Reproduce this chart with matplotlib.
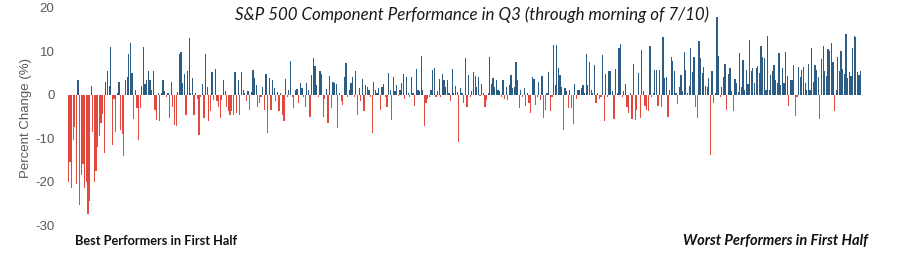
import numpy as np
import matplotlib
matplotlib.use("Agg")
import matplotlib.pyplot as plt

# Q3 % change per S&P 500 component, ordered from best to worst first-half performer
seg0 = [-20, -15.5, -21.5, -10.5, -7.5, -20.5, 3.3, -25.5, -18.5, -16, -21.5, -20, -27.5, -24.5, 2,
        -8.5, -20, -17.5, -12, -9.5, -6.5, -4.5, -13.5, 3, 5.5, 2, 11, -11.5, -1, -8.5, 0.5, 3, -8, -9,
        -14, 3.5, 4, 9.5, 12, 5, -5.5, 1, -3, -10.5, -3, 2, 11, 2.5, 3.5, 5.5]
seg1 = [3.5, 1.0, 5.4, -3.5, -5.8, 0.5, -6.1, 0.3, 3.5, 0.8, -0.5, 0.4, -5.4, 3.0, -2.7, -6.9, -7.1,
        0.6, 9.4, 9.8, 2.7, 4.8, -4.6, 5.5, 13.0, 0.5, 3.8, -4.6, 0.4, -1.0, -9.2, -0.5, 2.5, -5.4, 9.5,
        1.8, -6.1, -3.8, 5.2, -1.2, 6.0, -1.5, -2.7, -5.4, -1.2, 3.3, 0.8, -2.7, -3.8, -4.6]
seg2 = [-3.8, -4.6, 5.2, -4.2, 3.5, -4.6, 5.2, 1.2, 0.5, -1.5, 0.8, -3.5, 0.6, 5.8, 3.8, 2.3, -2.7,
        -1.9, -0.5, 1.8, -3.5, 4.8, -8.8, 3.8, -3.5, 3.5, 1.5, -1.5, 0.6, -3.8, 0.4, -4.6, -6.1, 3.6,
        -0.5, 1.2, 7.9, -0.5, -3.0, 1.0, 1.3, -1.9, 2.8, 1.5, -0.5, -2.7, 2.8, 1.0, -5.0, 4.6]
seg3 = [8.4, 6.7, 2.3, -0.5, 5.4, 4.8, -5.0, -1.0, 1.3, -6.5, 4.4, -3.0, 3.0, 2.7, 2.5, -7.7, 0.4,
        -1.5, -2.3, 4.0, 7.3, -0.5, 1.2, 2.8, 4.0, -0.4, 5.5, -4.6, 1.5, -1.5, 3.6, -3.8, 2.3, 1.8, 1.2,
        -0.5, -8.8, 3.0, 1.0, 0.3, 1.5, -3.5, 1.8, 2.5, -0.5, -2.7, 5.0, 1.2, -5.9, 4.0]
seg4 = [0.8, 2.3, -0.3, 1.2, 2.7, 4.8, -1.0, 4.0, 0.5, -0.5, 4.0, 0.3, -2.5, 6.0, 1.2, 0.8, 9.0, 1.0,
        -7.3, -1.9, -1.0, -0.5, 1.2, 5.6, 6.2, -0.4, 0.8, 3.6, -0.4, 4.8, 3.5, 1.8, 3.3, 0.3, -1.5, 5.9,
        0.4, 2.0, 0.6, -10.8, 1.5, 0.5, -1.9, 8.4, -2.7, 4.6, -0.5, 0.8, 5.2, 4.4]
seg5 = [1.8, 4.0, -0.3, 2.5, 0.4, -2.7, -1.2, 0.5, 8.7, 2.5, 3.8, 1.8, 3.5, 1.2, 0.8, -0.5, 3.3, -1.0,
        1.8, -1.3, 2.3, 4.6, 1.5, 1.8, 7.5, 3.3, -3.0, 1.0, -0.5, 1.5, -2.5, 0.5, -2.0, -4.2, 4.0, 3.6,
        -2.3, -0.5, 3.0, -1.3, 4.4, -5.4, -3.5, 0.5, 5.2, -3.8, -0.5, 11.4, 2.3, 11.4]
seg6 = [6.2, 4.6, 1.8, -8.1, 1.5, 0.8, -3.0, 1.0, -3.0, -6.7, 2.5, -1.0, 1.2, 1.0, 1.5, 2.3, 0.5, 9.5,
        2.3, 7.5, 1.2, 0.4, 6.8, -1.9, 0.4, -1.0, -0.5, 9.2, -6.1, 4.8, -0.5, 5.5, 5.5, 0.8, -5.6, 6.0,
        0.5, 10.8, 11.7, -0.4, 0.8, 2.5, -2.7, -4.1, 0.4, -5.6, 7.2, -5.9, -3.5, 5.0]
seg7 = [-5.4, 10.4, 0.8, -2.5, -3.5, -3.8, 11.2, -0.5, 0.3, 5.6, 5.6, -2.5, 5.8, -2.8, 13.3, 3.8, 4.0,
        -5.2, 1.0, 8.7, 7.8, 5.4, 0.4, -2.1, 1.8, 4.6, 0.8, 9.8, 5.8, 0.5, 2.0, 10.8, 5.2, 8.8, -2.7,
        -5.4, 12.5, 8.5, 5.0, 6.5, 2.0, 1.8, 3.8, -13.8, 5.4, -1.9, 0.5, 18.0, 9.0, -0.5]
seg8 = [1.8, 4.0, 7.2, -3.5, 4.8, 6.2, 0.8, -3.8, 3.6, 2.8, 0.6, 9.6, 1.8, 8.0, 1.0, 5.8, 2.5, 12.7,
        5.5, 6.2, 2.7, 6.2, 6.7, 5.0, 11.2, 8.7, 8.5, 1.2, 13.6, 1.2, 4.6, 5.5, 6.9, 3.5, 2.7, 9.6, 2.3,
        6.2, 2.8, 9.8, 4.4, -2.5, 3.3, 3.5, 6.9, -4.8, -0.5, 6.5, 4.0, 5.6]
seg9 = [6.5, 2.8, 1.2, 7.2, 1.0, 10.8, 3.0, 6.9, 5.8, 4.2, -5.6, 8.2, 11.2, 5.4, 4.4, 10.5, 10.2, 11.9,
        7.5, -3.8, 1.2, 8.7, 5.4, 10.0, 5.9, 4.8, 14.1, 3.8, 5.2, 4.4, 10.8, 13.5, 13.3, 5.2, 4.6, 5.4]

changes = np.array(seg0 + seg1 + seg2 + seg3 + seg4 + seg5 + seg6 + seg7 + seg8 + seg9)
yticks = [20, 10, 0, -10, -20, -30]
ytick_labels = ["20", "10", "0", "-10", "-20", "-30"]

BLUE = "#2d5c85"
RED = "#e2483e"
GRAY = "#595959"

fig = plt.figure(figsize=(9, 2.54), dpi=100)
ax = fig.add_axes([67 / 900, 29 / 254, (862 - 67) / 900, 217 / 254])

x = np.arange(len(changes))
colors = [BLUE if v >= 0 else RED for v in changes]
ax.bar(x, changes, width=0.75, color=colors, linewidth=0)

ax.set_xlim(-0.8, len(changes) - 0.2)
ax.set_ylim(-30, 20)
ax.set_yticks(yticks)
ax.set_yticklabels(ytick_labels, color=GRAY, fontsize=9.5, family="Liberation Sans")
ax.set_xticks([])
ax.tick_params(axis="y", length=0, pad=9)
for s in ax.spines.values():
    s.set_visible(False)

fig.text(26 / 900, 1 - 118 / 254, "Percent Change (%)", rotation=90, ha="center", va="center",
         color=GRAY, fontsize=9.5, family="Liberation Sans")
fig.text(472 / 900, 1 - 15 / 254, "S&P 500 Component Performance in Q3 (through morning of 7/10)",
         ha="center", va="center", style="italic", fontsize=12.2, family="Lato", color="#1a1a1a")
fig.text(75 / 900, 1 - 241 / 254, "Best Performers in First Half", ha="left", va="center",
         fontweight="bold", fontsize=9.2, family="Lato", color="#111111")
fig.text(868 / 900, 1 - 241 / 254, "Worst Performers in First Half", ha="right", va="center",
         fontweight="bold", style="italic", fontsize=10.5, family="Lato", color="#111111")

fig.savefig("out.png", dpi=100)
